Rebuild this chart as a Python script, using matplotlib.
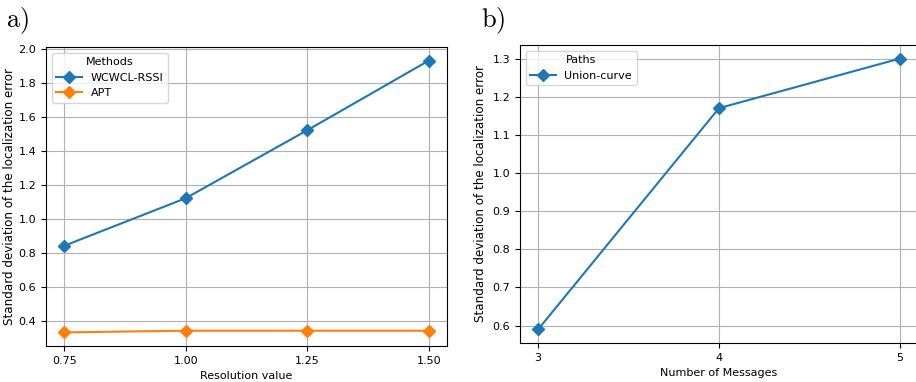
import matplotlib
matplotlib.use('Agg')
import matplotlib.pyplot as plt

plt.rcParams['mathtext.fontset'] = 'cm'
plt.rcParams['font.size'] = 8

# panel a data
resolution = [0.75, 1.00, 1.25, 1.50]
wcwcl_rssi = [0.84, 1.12, 1.52, 1.93]
apt = [0.33, 0.34, 0.34, 0.34]

# panel b data
messages = [3, 4, 5]
union_curve = [0.59, 1.17, 1.30]

fig = plt.figure(figsize=(9.16, 3.82), dpi=100)
ax1 = fig.add_axes([46/916, 1-346/382, (447-46)/916, (346-47)/382])
ax2 = fig.add_axes([520/916, 1-343/382, (918-520)/916, (343-45)/382])

ax1.plot(resolution, wcwcl_rssi, marker='D', label='WCWCL-RSSI')
ax1.plot(resolution, apt, marker='D', label='APT')
ax1.set_xticks(resolution)
ax1.set_xlabel('Resolution value')
ax1.set_ylabel('Standard deviation of the localization error', fontsize=8.6, labelpad=2)
ax1.legend(title='Methods', loc='upper left', handlelength=2.3)

ax2.plot(messages, union_curve, marker='D', label='Union-curve')
ax2.set_xticks(messages)
ax2.set_xlabel('Number of Messages')
ax2.set_ylabel('Standard deviation of the localization error', fontsize=8.6, labelpad=4)
ax2.legend(title='Paths', loc='upper left', handlelength=2.3)

for ax in (ax1, ax2):
    ax.grid(True)

fig.text(0.007, 0.93, r'$\mathrm{a)}$', fontsize=19)
fig.text(0.525, 0.93, r'$\mathrm{b)}$', fontsize=19)

fig.savefig('out.png', dpi=100)
